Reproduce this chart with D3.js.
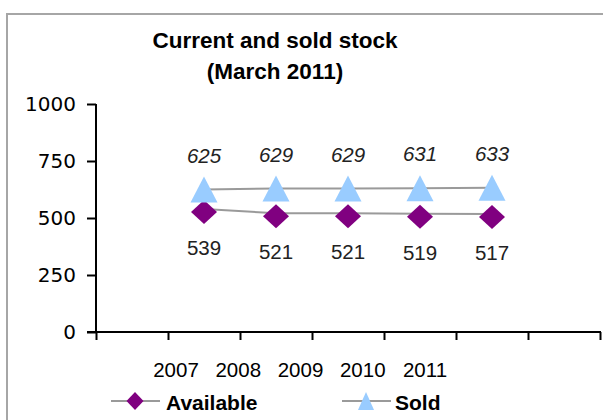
<!DOCTYPE html>
<meta charset="utf-8">
<style>
body { margin: 0; background: #fff; }
text { font-family: "Liberation Sans", Arial, sans-serif; fill: #000; }
.ytick text { font-family: "DejaVu Sans", sans-serif; font-size: 20px; }
.title { font-weight: bold; font-size: 22.5px; text-anchor: middle; }
.lbl { font-size: 20.5px; text-anchor: middle; fill: #222; }
.legend text { font-weight: bold; font-size: 21px; }
</style>
<body>
<script src="https://d3js.org/d3.v7.min.js"></script>
<script>
// data
var years = ["2007", "2008", "2009", "2010", "2011"];
var available = [539, 521, 521, 519, 517];
var sold = [625, 629, 629, 631, 633];
var yTicks = [0, 250, 500, 750, 1000];

var W = 603, H = 420;
var svg = d3.select("body").append("svg").attr("width", W).attr("height", H);

// chart frame (runs off the right and bottom edges)
svg.append("rect").attr("x", 7).attr("y", 14).attr("width", 620).attr("height", 430)
	.attr("fill", "#fff").attr("stroke", "#a6a6a6").attr("stroke-width", 2);

svg.append("text").attr("class", "title").attr("x", 275).attr("y", 48).text("Current and sold stock");
svg.append("text").attr("class", "title").attr("x", 275).attr("y", 79).text("(March 2011)");

// scales: 7 category slots, years sit in slots 2..6
var x = d3.scaleLinear().domain([2005.5, 2012.5]).range([96, 600]);
var y = d3.scaleLinear().domain([0, 1000]).range([332, 104]);
var xLab = d3.scalePoint().domain(years).range([176, 425]);

// y axis
var ya = svg.append("g").attr("class", "ytick").attr("transform", "translate(96,0)")
	.call(d3.axisLeft(y).tickValues(yTicks).tickSize(9).tickPadding(11).tickFormat(d3.format("d")));
ya.selectAll("path,line").attr("stroke", "#000").attr("stroke-width", 2);
ya.select(".domain").attr("d", "M0," + y(1000) + "V" + y(0));

// x axis
var xa = svg.append("g").attr("transform", "translate(0," + y(0) + ")")
	.call(d3.axisBottom(x).tickValues(d3.range(2005.5, 2013, 1)).tickSize(8).tickFormat(""));
xa.selectAll("path,line").attr("stroke", "#000").attr("stroke-width", 2);
xa.select(".domain").attr("d", "M87,0H601");

svg.append("g").selectAll("text").data(years).join("text")
	.attr("class", "lbl").attr("x", d => xLab(d)).attr("y", 377).style("fill", "#000")
	.text(d => d);

var line = d3.line().x((d, i) => x(+years[i])).y(d => y(d));

function diamond(w, h) {
	return "M0," + (-h) + "L" + w + ",0L0," + h + "L" + (-w) + ",0Z";
}
function tri(w, h) {
	return "M0," + (-h / 2) + "L" + (w / 2) + "," + (h / 2) + "L" + (-w / 2) + "," + (h / 2) + "Z";
}

// lines
svg.append("path").datum(available).attr("d", line)
	.attr("fill", "none").attr("stroke", "#9a9a9a").attr("stroke-width", 2);
svg.append("path").datum(sold).attr("d", line)
	.attr("fill", "none").attr("stroke", "#9a9a9a").attr("stroke-width", 2);

// markers
svg.append("g").selectAll("path").data(available).join("path")
	.attr("transform", (d, i) => "translate(" + x(+years[i]) + "," + (y(d) + 3) + ")")
	.attr("d", diamond(13, 12)).attr("fill", "#800080");
svg.append("g").selectAll("path").data(sold).join("path")
	.attr("transform", (d, i) => "translate(" + x(+years[i]) + "," + y(d) + ")")
	.attr("d", tri(27, 26)).attr("fill", "#99ccff");

// data labels
svg.append("g").selectAll("text").data(sold).join("text")
	.attr("class", "lbl").attr("x", (d, i) => x(+years[i])).attr("y", d => y(d) - 27)
	.style("font-style", "italic").text(d => d);
svg.append("g").selectAll("text").data(available).join("text")
	.attr("class", "lbl").attr("x", (d, i) => x(+years[i])).attr("y", d => y(d) + 46)
	.text(d => d);

// legend
var lg = svg.append("g").attr("class", "legend");
[{name: "Available", x0: 111, shape: diamond(8.5, 9), col: "#800080", tx: 166},
 {name: "Sold", x0: 342, shape: tri(16, 18), col: "#99ccff", tx: 395}].forEach(function(s) {
	lg.append("line").attr("x1", s.x0).attr("x2", s.x0 + 49).attr("y1", 401).attr("y2", 401)
		.attr("stroke", "#9a9a9a").attr("stroke-width", 2);
	lg.append("path").attr("transform", "translate(" + (s.x0 + 24) + ",401)").attr("d", s.shape).attr("fill", s.col);
	lg.append("text").attr("x", s.tx).attr("y", 410).text(s.name);
});
</script>
</body>
